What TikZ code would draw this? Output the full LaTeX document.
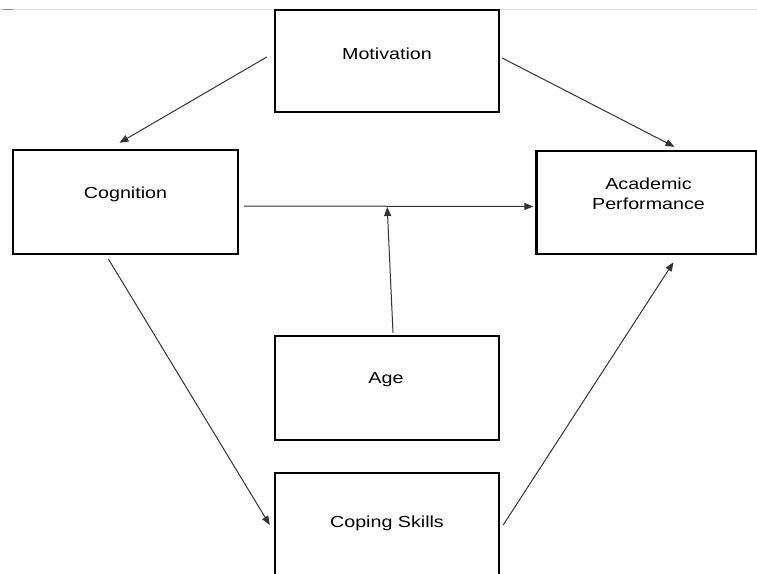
\documentclass[tikz,border=0pt]{standalone}
\usepackage{fontspec}
\setmainfont[FakeStretch=1.23]{Liberation Sans}
\usetikzlibrary{arrows.meta,calc}

\begin{document}
\begin{tikzpicture}[x=1pt,y=-1pt,
  box/.style={draw=black,line width=2.4pt,rectangle,inner sep=0pt},
  lbl/.style={font=\fontsize{16}{20}\selectfont,align=center,text=black},
  link/.style={draw=black!80,line width=1pt,-{Triangle[length=9pt,width=7pt]}}]

  \useasboundingbox (0,0) rectangle (757,573);
  \clip (0,0) rectangle (757,573);
  \fill[white] (0,0) rectangle (757,573);

  % page rule along the top
  \draw[black!12,line width=1pt] (0,9) -- (757,9);
  \draw[black!45,line width=1pt] (3,9) -- (13,9);

  % boxes
  \node[box,minimum width=224pt,minimum height=102pt] (mot) at (387,61) {};
  \node[box,minimum width=225pt,minimum height=104pt] (cog) at (125.5,202) {};
  \node[box,minimum width=220pt,minimum height=103pt] (acad) at (646.5,202.5) {};
  \node[box,minimum width=224pt,minimum height=104pt] (age) at (387,388) {};
  \node[box,minimum width=224pt,minimum height=104pt] (cope) at (387,525) {};

  % box texts
  \node[lbl] (tmot) at ($(mot.center)+(0,-7)$) {Motivation};
  \node[lbl] (tcog) at ($(cog.center)+(0,-8)$) {Cognition};
  \node[lbl] (tacad) at ($(acad.center)+(2,-8.5)$) {Academic\\Performance};
  \node[lbl] (tage) at ($(age.center)+(-1,-8)$) {Age};
  \node[lbl] (tcope) at ($(cope.center)+(0,-2)$) {Coping Skills};

  % connectors
  \draw[link] ($(mot.west)+(-7,-4)$) -- ($(cog.north)+(-6,-6)$);
  \draw[link] ($(mot.east)+(2,-3)$) -- ($(acad.north)+(28,-3)$);
  \draw[link] ($(cog.south)+(-17,4)$) -- ($(cope.west)+(-4,0)$);
  \draw[link] ($(cope.east)+(3,0)$) -- ($(acad.south)+(27,7)$);
  \draw[link] ($(cog.east)+(5,4)$) -- ($(acad.west)+(-2,4)$);
  \draw[link] ($(age.north)+(6,-2)$) -- ($(cog.east)+(148,5)$);
\end{tikzpicture}
\end{document}
